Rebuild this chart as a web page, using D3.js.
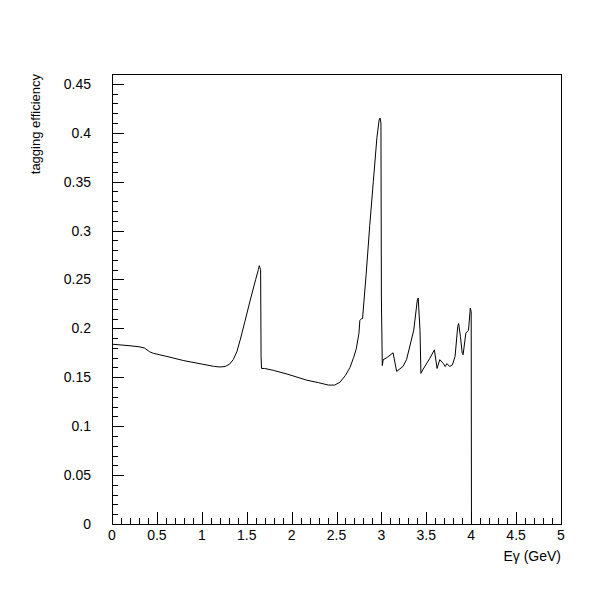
<!DOCTYPE html>
<html><head><meta charset="utf-8">
<script src="https://cdn.jsdelivr.net/npm/d3@7"></script>
<style>body{margin:0;background:#fff}svg{display:block}text{font-family:"Liberation Sans",Arial,sans-serif;fill:#000}</style>
</head><body><svg id="c" width="600" height="600"></svg>
<script>
const energy = [0.00,0.10,0.20,0.30,0.36,0.42,0.46,0.60,0.80,1.00,1.13,1.20,1.26,1.31,1.35,1.39,1.43,1.48,1.54,1.60,1.63,1.64,1.655,1.66,1.665,1.70,1.80,1.96,2.17,2.30,2.41,2.48,2.54,2.60,2.65,2.69,2.72,2.75,2.76,2.78,2.79,2.83,2.87,2.91,2.95,2.975,2.985,2.995,3.00,3.01,3.02,3.06,3.13,3.17,3.24,3.28,3.36,3.40,3.41,3.43,3.44,3.46,3.54,3.59,3.62,3.65,3.69,3.71,3.73,3.76,3.79,3.82,3.85,3.86,3.88,3.90,3.91,3.94,3.97,3.99,4.00,4.003];
const efficiency = [0.1838,0.1830,0.1822,0.1812,0.1800,0.1760,0.1745,0.1715,0.1670,0.1635,0.1612,0.1605,0.1610,0.1635,0.1680,0.1760,0.1890,0.2070,0.2290,0.2500,0.2600,0.2640,0.2600,0.1710,0.1590,0.1590,0.1570,0.1530,0.1470,0.1445,0.1420,0.1420,0.1450,0.1520,0.1600,0.1700,0.1790,0.1950,0.2080,0.2100,0.2100,0.2550,0.3050,0.3500,0.3950,0.4130,0.4150,0.4100,0.2300,0.1620,0.1680,0.1700,0.1750,0.1560,0.1610,0.1680,0.1980,0.2290,0.2310,0.1980,0.1540,0.1575,0.1695,0.1780,0.1590,0.1680,0.1640,0.1610,0.1640,0.1610,0.1626,0.1710,0.2018,0.2050,0.1916,0.1746,0.1730,0.1950,0.1980,0.2206,0.2170,0.0000];
const xTickLabels = ["0","0.5","1","1.5","2","2.5","3","3.5","4","4.5","5"];
const yTickLabels = ["0","0.05","0.1","0.15","0.2","0.25","0.3","0.35","0.4","0.45"];
const xTitle = "Eγ (GeV)";
const yTitle = "tagging efficiency";

const svg = d3.select("#c");
const L=112, R=561, T=74, B=524;
const x = d3.scaleLinear().domain([0,5]).range([L,R]);
const y = d3.scaleLinear().domain([0,0.46]).range([B,T]);

// frame
svg.append("rect").attr("x",L+0.5).attr("y",T+0.5).attr("width",R-L).attr("height",B-T)
  .attr("fill","none").attr("stroke","#000").attr("stroke-width",1);

// x ticks (inside)
const xMinor = d3.range(0,51).map(i=>i/10);
svg.append("g").selectAll("line").data(xMinor).join("line")
  .attr("x1",d=>Math.round(x(d))+0.5).attr("x2",d=>Math.round(x(d))+0.5)
  .attr("y1",B).attr("y2",(d,i)=> i%5===0 ? B-12 : B-6)
  .attr("stroke","#000");
svg.append("g").selectAll("text").data(xTickLabels).join("text")
  .attr("x",(d,i)=>x(i*0.5)).attr("y",540).attr("text-anchor","middle")
  .attr("font-size",14).text(d=>d);

// y ticks (inside)
const yMinor = d3.range(0,47).map(i=>i/100);
svg.append("g").selectAll("line").data(yMinor).join("line")
  .attr("y1",d=>Math.round(y(d))+0.5).attr("y2",d=>Math.round(y(d))+0.5)
  .attr("x1",L).attr("x2",(d,i)=> i%5===0 ? L+12 : L+6)
  .attr("stroke","#000");
svg.append("g").selectAll("text").data(yTickLabels).join("text")
  .attr("x",91).attr("y",(d,i)=>y(i*0.05)).attr("dy","0.36em").attr("text-anchor","end")
  .attr("font-size",14).text(d=>d);

// titles
svg.append("text").attr("x",R).attr("y",561).attr("text-anchor","end").attr("font-size",14).text(xTitle);
svg.append("text").attr("transform",`translate(40,${T}) rotate(-90)`).attr("text-anchor","end")
  .attr("font-size",13).text(yTitle);

// curve
const pts = energy.map((e,i)=>[e,efficiency[i]]);
svg.append("path").datum(pts)
  .attr("d",d3.line().x(d=>x(d[0])).y(d=>y(d[1])))
  .attr("fill","none").attr("stroke","#000").attr("stroke-width",1);
</script></body></html>
